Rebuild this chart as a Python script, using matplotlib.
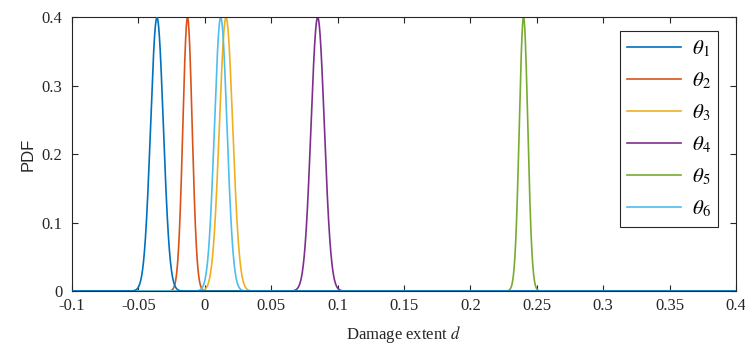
import numpy as np
import matplotlib
matplotlib.use('Agg')
import matplotlib.pyplot as plt

# curve parameters (peak location, spread, peak height)
labels = [r'$\theta_{\mathit{1}}$', r'$\theta_{\mathit{2}}$', r'$\theta_{\mathit{3}}$',
          r'$\theta_{\mathit{4}}$', r'$\theta_{\mathit{5}}$', r'$\theta_{\mathit{6}}$']
means = [-0.036, -0.013, 0.016, 0.085, 0.240, 0.012]
sigmas = [0.0048, 0.0035, 0.0050, 0.0050, 0.0032, 0.0047]
peaks = [0.4, 0.4, 0.4, 0.4, 0.4, 0.4]
colors = ['#0072BD', '#D95319', '#EDB120', '#7E2F8E', '#77AC30', '#4DBEEE']

plt.rcParams['mathtext.fontset'] = 'stix'

fig = plt.figure(figsize=(7.45, 3.49), dpi=100)
ax = fig.add_axes([0.0966, 0.166, 0.8914, 0.784])

d = np.linspace(-0.1, 0.4, 5001)
for i in range(6):
    pdf = peaks[i] * np.exp(-0.5 * ((d - means[i]) / sigmas[i]) ** 2)
    z = 3 if i == 0 else 2
    ax.plot(d, pdf, color=colors[i], lw=1.2, label=labels[i], zorder=z)

ax.set_xlim(-0.1, 0.4)
ax.set_ylim(0, 0.4)
ax.set_xticks(np.arange(-0.1, 0.401, 0.05))
ax.set_xticklabels(['-0.1', '-0.05', '0', '0.05', '0.1', '0.15', '0.2', '0.25',
                    '0.3', '0.35', '0.4'])
ax.set_yticks([0, 0.1, 0.2, 0.3, 0.4])
ax.set_yticklabels(['0', '0.1', '0.2', '0.3', '0.4'])
ax.tick_params(direction='in', top=True, right=True, length=4, width=0.8,
               labelsize=12, colors='#262626')
ax.tick_params(axis='y', pad=7)
ax.tick_params(axis='x', pad=5)
for lab in ax.get_xticklabels() + ax.get_yticklabels():
    lab.set_family('Liberation Serif')
for s in ax.spines.values():
    s.set_linewidth(0.8)
    s.set_color('#262626')

ax.set_xlabel('Damage extent $\\mathit{d}$', family='Liberation Serif', fontsize=12,
              color='#262626', labelpad=7)
ax.set_ylabel('PDF', family='Liberation Sans', fontsize=12, color='#262626', labelpad=4)

leg = ax.legend(loc='upper right', bbox_to_anchor=(0.973, 0.952), borderaxespad=0,
                fontsize=15, fancybox=False, edgecolor='#262626', framealpha=1,
                handlelength=2.6, handletextpad=0.5, labelspacing=0.55,
                borderpad=0.35)
leg.get_frame().set_linewidth(0.8)

fig.savefig('out.png', dpi=100)
